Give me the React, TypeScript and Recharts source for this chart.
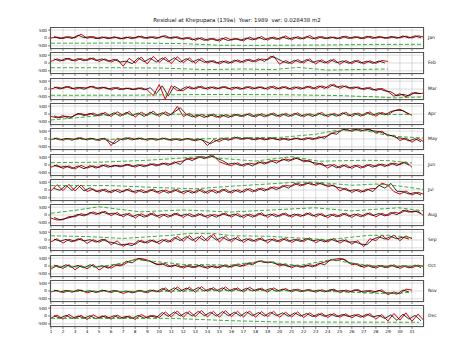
import React from "react";
import { LineChart, Line, XAxis, YAxis, CartesianGrid } from "recharts";

const title = "Residual at Khepupara (139a)  Year: 1989  var: 0.028438 m2";
const monthNames = ["Jan", "Feb", "Mar", "Apr", "May", "Jun", "Jul", "Aug", "Sep", "Oct", "Nov", "Dec"];
const dayTicks = [1, 2, 3, 4, 5, 6, 7, 8, 9, 10, 11, 12, 13, 14, 15, 16, 17, 18, 19, 20, 21, 22, 23, 24, 25, 26, 27, 28, 29, 30, 31];
const yTicks = [-500, 0, 500];

// red series: values every half day starting at day 1.0
// black series: values every half day starting at day 1.25
const janRed = [0,60, -30,80, 10,250, -20,90, -40,60, -10,50, -60,70, 0,120, -30,80, 20,160, -40,90, -90,40, -150,20, -160,-20, -200,40, -130,-40, -180,60, -110,100, -140,60, -90,140, -120,90, -60,160, -80,100, -40,60, -50,120, -20,80, -40,110, 0,70, -20,80, 10,120, 0,140, 60];
const janBlack = [90,-40, 80,-30, 180,20, 90,-40, 70,-50, 80,-60, 60,-50, 110,-10, 80,-40, 120,0, 70,-60, 20,-120, 0,-150, -30,-160, -20,-170, -30,-150, -10,-120, 40,-110, 30,-90, 70,-70, 50,-60, 90,-50, 80,-40, 70,-50, 100,-30, 90,-40, 110,-30, 100,-20, 100,-20, 130,0, 140,10];
const janGreenDays = [1, 4, 8, 12, 15, 18, 24, 28, 32];
const janGreen = [-330, -330, -320, -360, -460, -470, -440, -410, -400];

const febRed = [100,260, 140,300, 120,280, 160,320, 100,260, 60,240, -200,300, 0,380, -60,420, 40,360, -40,400, 20,320, -20,300, 0,160, -60,140, 0,200, 40,240, 80,260, 200,450, -80,160, -40,220, 0,260, -60,200, -20,240, -80,160, -40,180, -60,140, -20,160, 100];
const febBlack = [260,120, 300,150, 280,140, 310,160, 260,110, 230,60, 120,-40, 320,80, 300,60, 320,80, 330,60, 280,60, 240,40, 140,0, 120,-20, 180,40, 220,80, 260,100, 420,300, 100,-20, 180,20, 220,40, 160,0, 200,20, 130,-20, 150,0, 120,-20, 130,0];
const febGreenDays = [1, 6, 10, 14, 17, 19.5, 21.5, 24, 29];
const febGreen = [-300, -300, -320, -420, -380, -420, -280, -450, -380];

const marRed = [0,120, 40,160, -20,100, 60,180, 0,120, -60,100, -20,60, -40,80, -60,-420, 280,-650, 200,-100, -100,160, 0,180, -20,140, 20,160, -40,120, 0,160, 20,140, -20,180, 0,160, -40,140, 20,180, 0,200, 60,300, 40,200, 0,140, -40,100, -100,40, -160,-460, -300,-500, -250,-300, -260];
const marBlack = [130,0, 160,20, 110,-20, 170,40, 120,0, 90,-40, 60,-40, 70,-50, 80,-300, 200,-450, 180,-60, 140,0, 160,20, 130,0, 150,20, 120,-20, 150,0, 140,10, 160,0, 150,0, 130,-10, 170,20, 190,40, 280,120, 200,60, 130,0, 80,-60, 20,-120, -180,-430, -340,-440, -220,-300];
const marGreenDays = [1, 8, 14, 20, 25, 28, 29.5, 32];
const marGreen = [-400, -390, -350, -360, -420, -500, -570, -500];

const aprRed = [-150,-250, -100,-280, -60,20, -80,60, -120,100, -160,140, -80,160, -200,120, -100,180, -160,140, -60,490, -160,40, -220,-20, -200,0, -240,-40, -180,-20, -160,40, -200,20, -140,60, -180,40, -140,80, -180,20, -120,100, -180,40, -120,120, -160,60, -100,140, -140,100, -60,200, 300,100, -80];
const aprBlack = [-120,-240, -140,-200, 40,-100, 40,-120, 60,-120, 80,-140, 100,-100, 60,-160, 120,-80, 80,-120, 120,400, -20,-180, -60,-220, -40,-200, -80,-220, -20,-160, 0,-160, -20,-180, 20,-140, 0,-160, 40,-140, 0,-160, 60,-120, 0,-140, 80,-120, 40,-140, 100,-80, 80,-60, 160,240, 220,-20];
const aprGreenDays = [1, 3, 6, 10, 16, 22, 27, 31];
const aprGreen = [-380, -250, -30, 0, -60, -40, -20, -40];

const mayRed = [-40,60, -80,40, -20,80, -60,40, -100,60, -420,40, -60,80, -20,60, -80,40, -40,60, -100,20, -60,40, -120,0, -420,-40, -160,40, -40,120, -20,80, -60,60, -40,80, -80,40, -40,60, -60,80, 0,120, 200,420, 500,650, 480,640, 520,620, 380,500, 200,240, -100,60, -200,40, -180];
const mayBlack = [60,-60, 40,-80, 80,-40, 50,-70, 40,-100, -300,-40, 80,-60, 60,-40, 40,-80, 60,-60, 20,-100, 40,-80, 0,-120, -300,-100, 40,-80, 120,-20, 80,-40, 60,-60, 80,-40, 40,-80, 60,-40, 80,-40, 140,40, 380,300, 640,520, 620,500, 620,520, 480,340, 220,80, 40,-120, 20,-180];
const mayGreenDays = [1, 8, 14, 16, 20, 23, 24.5, 27, 28.5, 30, 32];
const mayGreen = [-20, -20, 20, 80, 100, 300, 520, 560, 300, 150, 60];

const junRed = [-140,0, -220,-60, -260,-20, -200,-60, -160,20, -120,-20, -80,40, -140,20, -60,80, -20,120, 40,200, 260,420, 380,540, 440,600, 200,60, -40,140, -80,120, 40,200, 120,300, 240,380, 300,460, 200,280, 0,120, -200,40, -180,20, -220,0, -160,40, -100,60, -60,120, 20,200, -140];
const junBlack = [-20,-140, -80,-220, -60,-240, -40,-200, 0,-140, -20,-120, 40,-100, 20,-120, 80,-60, 120,-20, 200,40, 420,280, 540,400, 600,440, 280,60, 120,-40, 100,-60, 200,60, 280,120, 380,240, 460,320, 280,160, 100,-60, 20,-180, 0,-180, -20,-200, 20,-140, 60,-100, 120,-40, 180,0];
const junGreenDays = [1, 5, 9, 12, 13.5, 15.5, 18, 21, 23.3, 27, 29, 31];
const junGreen = [150, 180, 300, 450, 550, 400, 250, 530, 240, 300, 280, 130];

const julRed = [-60,340, -40,360, -60,320, -100,60, -140,60, -180,40, -120,80, -200,20, -160,60, -220,0, -160,40, -240,-20, -180,40, -220,20, -160,60, -200,20, -140,100, -100,120, 0,200, 100,300, 240,420, 300,480, 280,460, 200,320, -60,120, -160,40, -120,80, 100,440, 300,-100, -260,-60, -320,-140, -280];
const julBlack = [100,-20, 300,-40, 320,-60, 140,-100, 20,-140, 0,-160, 40,-120, -20,-180, 20,-140, -20,-200, 20,-160, -40,-200, 20,-180, 0,-200, 40,-160, 0,-160, 80,-120, 100,-60, 180,20, 280,120, 420,260, 460,320, 440,300, 320,180, 100,-60, 20,-140, 60,-100, 300,120, 420,-80, -100,-260, -160,-320];
const julGreenDays = [1, 6, 10, 13, 16, 19, 21.5, 23, 26, 28, 30, 32];
const julGreen = [280, 280, 150, 80, 240, 380, 500, 500, 300, 380, 250, 30];

const augRed = [-200,-320, -300,-100, -120,80, 0,200, 60,240, -40,160, -120,120, -200,80, -100,140, -180,60, -80,120, -160,100, -100,80, -180,40, -60,120, -140,100, -180,60, -100,140, -160,80, -80,120, -140,60, -60,140, -120,100, -180,60, -100,120, -160,80, -80,140, -120,100, -40,180, 100,320, 180,260, -80];
const augBlack = [-160,-300, -220,-120, 40,-60, 160,40, 200,60, 120,-40, 80,-100, 40,-140, 100,-80, 40,-140, 100,-60, 60,-120, 80,-100, 20,-140, 100,-60, 60,-120, 40,-140, 100,-60, 60,-120, 100,-80, 60,-100, 120,-60, 80,-100, 40,-120, 100,-80, 60,-120, 120,-40, 100,-60, 160,20, 300,180, 260,80];
const augGreenDays = [1, 3, 5, 8.4, 12, 16, 22.9, 26, 29.9, 32];
const augGreen = [110, 300, 525, 200, 320, 190, 460, 260, 460, 260];

const sepRed = [-120,80, -200,40, -80,100, -220,20, -140,60, -300,-60, -400,-200, -280,-20, -200,0, -240,40, -120,240, -80,300, -120,280, -60,380, -140,260, -120,200, -160,100, -100,140, -180,80, -120,120, -160,60, -100,140, -180,40, -120,100, -200,20, -260,-40, -420,80, -40,300, 0,320, -40,260, 80];
const sepBlack = [60,-80, 40,-120, 80,-60, 20,-140, 40,-120, -180,-320, -260,-360, -40,-180, 0,-160, 20,-140, 160,-40, 220,-20, 200,-40, 280,0, 180,-40, 120,-60, 80,-80, 100,-60, 60,-100, 80,-80, 40,-100, 100,-60, 20,-120, 60,-100, 0,-140, -100,-260, -300,40, 200,60, 220,80, 180,60];
const sepGreenDays = [1, 4, 7, 11, 12.5, 14.5, 16, 19, 24, 27.5, 29.2, 31];
const sepGreen = [270, 220, 100, 300, 420, 420, 270, 240, 20, 300, 300, 150];

const octRed = [-200,40, -160,80, -240,20, -180,100, -260,0, -140,80, 60,300, 420,480, 380,200, 80,160, -60,100, -140,40, -100,80, -160,20, -120,60, -80,120, 0,160, 220,340, 200,260, 0,120, -120,60, -80,80, 0,200, 300,420, 480,380, 80,140, -100,60, -140,40, -100,80, -160,20, -120,60, -40];
const octBlack = [60,-100, 80,-80, 40,-120, 80,-80, 20,-140, 100,0, 300,200, 480,360, 320,100, 140,-40, 60,-80, 20,-100, 40,-100, 0,-120, 40,-80, 80,-40, 180,80, 320,220, 260,120, 100,-40, 40,-80, 60,-60, 180,80, 420,340, 460,200, 160,-40, 60,-100, 40,-100, 60,-100, 20,-120, 60,-100];
const octGreenDays = [1, 5, 7, 8, 9.5, 12, 16, 18.4, 21.6, 24.5, 25.7, 28, 32];
const octGreen = [-60, -60, 200, 410, 300, 100, 60, 300, 30, 430, 200, 0, 0];

const novRed = [-60,40, -100,20, -40,60, -120,0, -60,40, -100,20, -160,-20, -80,40, -120,60, -60,200, -100,260, -40,240, -80,280, -20,220, -60,260, -40,200, -60,240, 0,180, -80,200, -20,160, -60,120, -20,100, -80,80, -40,120, -100,60, -40,100, -120,40, -60,80, -240,-60, -180,120, 60];
const novBlack = [60,-60, 40,-80, 80,-40, 20,-100, 60,-60, 40,-80, 0,-120, 40,-80, 60,-60, 160,-20, 200,0, 180,20, 220,0, 160,20, 200,0, 160,0, 180,0, 140,20, 160,-20, 120,0, 100,-40, 80,-20, 60,-60, 100,-20, 40,-80, 80,-40, 20,-100, 40,-120, -120,-200, 60,-60];
const novGreenDays = [1, 10, 16, 22, 26, 28, 30, 31];
const novGreen = [-30, -20, 30, 10, -80, -150, -150, -60];

const decRed = [-140,60, -200,100, -160,40, -220,80, -140,20, -200,60, -160,0, -220,100, -120,40, -100,260, -60,320, -80,300, -40,360, -60,300, -80,340, -40,300, -60,320, -80,280, -40,300, -80,240, -60,260, -100,200, -60,180, -100,160, -80,140, -120,120, -80,160, -200,100, -320,160, -260,200, -340,120, -300];
const decBlack = [20,-140, 40,-160, 0,-140, 20,-180, 0,-140, 20,-160, -20,-160, 40,-140, 20,-100, 220,-20, 260,0, 240,0, 300,20, 240,0, 280,20, 240,0, 260,20, 220,0, 240,20, 200,-20, 200,0, 160,-40, 140,-20, 120,-40, 100,-40, 80,-80, 120,-60, 40,-160, 80,-280, 120,-200, 40,-300];
const decGreenDays = [1, 11, 16, 20, 31.6];
const decGreen = [-150, -150, -300, -380, -400];

const redByMonth = [janRed, febRed, marRed, aprRed, mayRed, junRed, julRed, augRed, sepRed, octRed, novRed, decRed];
const blackByMonth = [janBlack, febBlack, marBlack, aprBlack, mayBlack, junBlack, julBlack, augBlack, sepBlack, octBlack, novBlack, decBlack];
const greenDaysByMonth = [janGreenDays, febGreenDays, marGreenDays, aprGreenDays, mayGreenDays, junGreenDays, julGreenDays, augGreenDays, sepGreenDays, octGreenDays, novGreenDays, decGreenDays];
const greenByMonth = [janGreen, febGreen, marGreen, aprGreen, mayGreen, junGreen, julGreen, augGreen, sepGreen, octGreen, novGreen, decGreen];

const FONT = "DejaVu Sans, Verdana, sans-serif";
const PLOT_LEFT = 50;
const PLOT_W = 374;
const PLOT_H = 22;
const panelTop = (i: number) => 27 + Math.round(i * 25.3);

function Panel({ i }: { i: number }) {
  const last = i === 11;
  const red = redByMonth[i].map((y, k) => ({ x: 1 + k * 0.5, y }));
  const black = blackByMonth[i].map((y, k) => ({ x: 1.25 + k * 0.5, y }));
  const green = greenDaysByMonth[i].map((x, k) => ({ x, y: greenByMonth[i][k] }));
  const axisH = last ? 14 : 3;
  return (
    <div style={{ position: "absolute", left: 0, top: panelTop(i) }}>
      <LineChart width={474} height={PLOT_H + axisH} margin={{ top: 0, right: 474 - PLOT_LEFT - PLOT_W, bottom: 0, left: 0 }}>
        <CartesianGrid stroke="#c4c4c4" strokeWidth={0.6} />
        <XAxis
          dataKey="x"
          type="number"
          domain={[0.92, 32]}
          ticks={dayTicks}
          interval={0}
          allowDataOverflow
          height={axisH}
          axisLine={false}
          tickSize={2}
          tickMargin={1}
          tickLine={{ stroke: "#333", strokeWidth: 0.6 }}
          tick={{ fontSize: 4.2, fill: "#111", fontFamily: FONT }}
          tickFormatter={(v: number) => (last ? String(v) : "")}
        />
        <YAxis
          type="number"
          domain={[-700, 700]}
          ticks={yTicks}
          interval={0}
          allowDataOverflow
          width={PLOT_LEFT}
          axisLine={false}
          tickSize={2}
          tickMargin={1}
          tickLine={{ stroke: "#333", strokeWidth: 0.6 }}
          tick={{ fontSize: 4.2, fill: "#111", fontFamily: FONT }}
          tickFormatter={(v: number) => String(v)}
        />
        <Line data={red} dataKey="y" stroke="#e00000" strokeWidth={1} dot={false} isAnimationActive={false} />
        <Line data={black} dataKey="y" stroke="#000000" strokeWidth={0.8} dot={false} isAnimationActive={false} />
        <Line data={green} dataKey="y" stroke="#22a822" strokeWidth={0.9} strokeDasharray="4 2" dot={false} isAnimationActive={false} />
      </LineChart>
      <div
        style={{
          position: "absolute",
          left: PLOT_LEFT,
          top: 0,
          width: PLOT_W,
          height: PLOT_H,
          border: "1px solid #555",
          boxSizing: "border-box",
          pointerEvents: "none",
        }}
      />
      <div
        style={{
          position: "absolute",
          left: PLOT_LEFT + PLOT_W + 4,
          top: PLOT_H / 2 - 3,
          fontSize: 4.5,
          lineHeight: "6px",
          fontFamily: FONT,
          color: "#111",
          whiteSpace: "nowrap",
        }}
      >
        {monthNames[i]}
      </div>
    </div>
  );
}

export default function App() {
  return (
    <div style={{ position: "absolute", left: 0, top: 0, width: 474, height: 352, background: "#fff", overflow: "hidden" }}>
      <div
        style={{
          position: "absolute",
          left: PLOT_LEFT,
          width: PLOT_W,
          top: 17,
          textAlign: "center",
          fontSize: 5.5,
          lineHeight: "7px",
          fontFamily: FONT,
          color: "#111",
          whiteSpace: "pre",
        }}
      >
        {title}
      </div>
      {monthNames.map((m, i) => (
        <Panel key={m} i={i} />
      ))}
    </div>
  );
}
